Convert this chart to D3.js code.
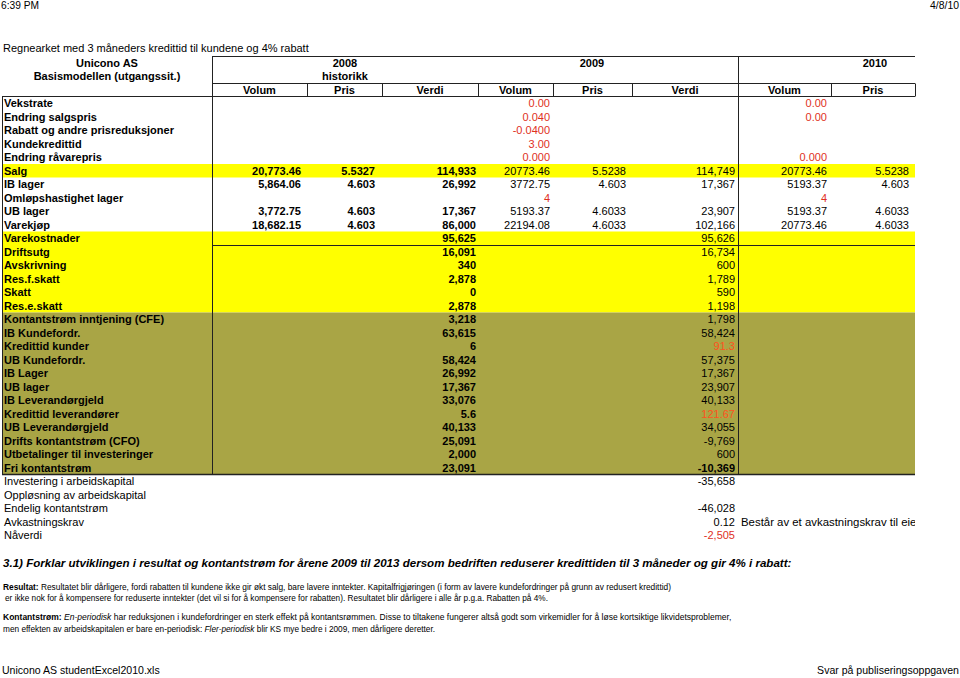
<!DOCTYPE html>
<html>
<head>
<meta charset="utf-8">
<script src="https://cdn.jsdelivr.net/npm/d3@7"></script>
<style>
  body { margin: 0; background: #fff; }
  svg { display: block; font-family: Arial, "Liberation Sans", sans-serif; }
</style>
</head>
<body>
<div id="chart"></div>
<script>
(function() {

  // row labels of the sheet
  var rowLabels = [
    'Vekstrate', 'Endring salgspris', 'Rabatt og andre prisreduksjoner', 'Kundekredittid',
    'Endring råvarepris', 'Salg', 'IB lager', 'Omløpshastighet lager', 'UB lager', 'Varekjøp',
    'Varekostnader', 'Driftsutg', 'Avskrivning', 'Res.f.skatt', 'Skatt', 'Res.e.skatt',
    'Kontantstrøm inntjening (CFE)', 'IB Kundefordr.', 'Kredittid kunder', 'UB Kundefordr.',
    'IB Lager', 'UB lager', 'IB Leverandørgjeld', 'Kredittid leverandører', 'UB Leverandørgjeld',
    'Drifts kontantstrøm (CFO)', 'Utbetalinger til investeringer', 'Fri kontantstrøm',
    'Investering i arbeidskapital', 'Oppløsning av arbeidskapital', 'Endelig kontantstrøm',
    'Avkastningskrav', 'Nåverdi'
  ];

  var years = ['2008', '2009', '2010'];
  var subHeads = ['Volum', 'Pris', 'Verdi', 'Volum', 'Pris', 'Verdi', 'Volum', 'Pris'];

  var vol2008 = ['', '', '', '', '', '20,773.46', '5,864.06', '', '3,772.75', '18,682.15'];
  var pris2008 = ['', '', '', '', '', '5.5327', '4.603', '', '4.603', '4.603'];
  var verdi2008 = ['', '', '', '', '', '114,933', '26,992', '', '17,367', '86,000',
    '95,625', '16,091', '340', '2,878', '0', '2,878', '3,218', '63,615', '6', '58,424',
    '26,992', '17,367', '33,076', '5.6', '40,133', '25,091', '2,000', '23,091'];
  var vol2009 = ['0.00', '0.040', '-0.0400', '3.00', '0.000', '20773.46', '3772.75', '4',
    '5193.37', '22194.08'];
  var pris2009 = ['', '', '', '', '', '5.5238', '4.603', '', '4.6033', '4.6033'];
  var verdi2009 = ['', '', '', '', '', '114,749', '17,367', '', '23,907', '102,166',
    '95,626', '16,734', '600', '1,789', '590', '1,198', '1,798', '58,424', '91.3', '57,375',
    '17,367', '23,907', '40,133', '121.67', '34,055', '-9,769', '600', '-10,369',
    '-35,658', '', '-46,028', '0.12', '-2,505'];
  var vol2010 = ['0.00', '0.00', '', '', '0.000', '20773.46', '5193.37', '4', '5193.37', '20773.46'];
  var pris2010 = ['', '', '', '', '', '5.5238', '4.603', '', '4.6033', '4.6033'];

  var noteText = 'Består av et avkastningskrav til eiere';

  var width = 960, height = 678;
  var svg = d3.select('#chart').append('svg')
    .attr('width', width)
    .attr('height', height);

  // layout
  var edges = [212, 307, 382, 478, 553, 632, 738, 831, 915];
  var tableLeft = 2, tableRight = 915;
  var y = d3.scaleLinear().domain([0, rowLabels.length]).range([96.5, 96.5 + rowLabels.length * 13.5]);
  var rowH = y(1) - y(0);
  var red = '#e0301e', orange = '#ff5220', yellow = '#ffff00', olive = '#a9a545';

  var columns = [
    {data: vol2008, pad: 6, bold: true},
    {data: pris2008, pad: 7, bold: true},
    {data: verdi2008, pad: 2, bold: true},
    {data: vol2009, pad: 3},
    {data: pris2009, pad: 6},
    {data: verdi2009, pad: 3},
    {data: vol2010, pad: 4},
    {data: pris2010, pad: 6}
  ];
  var redCells = {'3': [0, 1, 2, 3, 4, 7], '6': [0, 1, 4, 7], '5': [32]};
  var orangeCells = {'5': [18, 23]};
  var boldCells = {'5': [27]};

  // row backgrounds
  var bands = [
    {from: 5, to: 6, fill: yellow},
    {from: 10, to: 16, fill: yellow},
    {from: 16, to: 28, fill: olive}
  ];
  svg.append('g').selectAll('rect')
    .data(bands)
    .enter().append('rect')
    .attr('x', tableLeft)
    .attr('width', tableRight - tableLeft)
    .attr('y', function(d) { return y(d.from); })
    .attr('height', function(d) { return y(d.to) - y(d.from); })
    .attr('fill', function(d) { return d.fill; });

  // grid lines
  var lines = svg.append('g').attr('stroke', '#222').attr('stroke-width', 1);
  lines.append('line').attr('x1', edges[0]).attr('x2', tableRight).attr('y1', 56.5).attr('y2', 56.5);
  lines.append('line').attr('x1', edges[0]).attr('x2', tableRight).attr('y1', 83.5).attr('y2', 83.5);
  lines.append('line').attr('x1', tableLeft).attr('x2', tableRight).attr('y1', y(0)).attr('y2', y(0));
  lines.append('line').attr('x1', edges[0]).attr('x2', tableRight).attr('y1', y(11) + 0.5).attr('y2', y(11) + 0.5);
  lines.append('line').attr('x1', tableLeft).attr('x2', tableRight).attr('y1', y(28)).attr('y2', y(28))
    .attr('stroke-width', 1.6);
  lines.selectAll('line.sub')
    .data(edges)
    .enter().append('line')
    .attr('x1', function(d) { return d + 0.5; })
    .attr('x2', function(d) { return d + 0.5; })
    .attr('y1', 83.5)
    .attr('y2', y(0));
  lines.selectAll('line.full')
    .data([edges[0], edges[6]])
    .enter().append('line')
    .attr('x1', function(d) { return d + 0.5; })
    .attr('x2', function(d) { return d + 0.5; })
    .attr('y1', 56.5)
    .attr('y2', y(28));
  lines.append('line').attr('x1', tableLeft + 0.5).attr('x2', tableLeft + 0.5).attr('y1', y(0)).attr('y2', y(28));

  // headers
  var fs = 11;
  svg.append('text').attr('x', 3).attr('y', 52).attr('font-size', fs)
    .text('Regnearket med 3 måneders kredittid til kundene og 4% rabatt');
  var head = svg.append('g').attr('font-size', fs).attr('font-weight', 'bold').attr('text-anchor', 'middle');
  head.append('text').attr('x', 107).attr('y', 67).text('Unicono AS');
  head.append('text').attr('x', 107).attr('y', 80).text('Basismodellen (utgangssit.)');
  var yearX = [345, 592, 875];
  head.selectAll('text.year')
    .data(years)
    .enter().append('text')
    .attr('x', function(d, i) { return yearX[i]; })
    .attr('y', 67)
    .text(function(d) { return d; });
  head.append('text').attr('x', yearX[0]).attr('y', 80).text('historikk');
  head.selectAll('text.sub')
    .data(subHeads)
    .enter().append('text')
    .attr('x', function(d, i) { return (edges[i] + edges[i + 1]) / 2; })
    .attr('y', 94)
    .text(function(d) { return d; });

  // row labels
  svg.append('g').attr('font-size', fs).selectAll('text')
    .data(rowLabels)
    .enter().append('text')
    .attr('x', 4)
    .attr('y', function(d, i) { return y(i) + rowH / 2 + 4; })
    .attr('font-weight', function(d, i) { return i < 28 ? 'bold' : 'normal'; })
    .text(function(d) { return d; });

  // values
  columns.forEach(function(col, ci) {
    var reds = redCells[ci] || [], oranges = orangeCells[ci] || [], bolds = boldCells[ci] || [];
    svg.append('g').attr('font-size', fs).attr('text-anchor', 'end').selectAll('text')
      .data(col.data)
      .enter().append('text')
      .attr('x', edges[ci + 1] - col.pad)
      .attr('y', function(d, i) { return y(i) + rowH / 2 + 4; })
      .attr('font-weight', function(d, i) { return col.bold || bolds.indexOf(i) >= 0 ? 'bold' : 'normal'; })
      .attr('fill', function(d, i) {
        if (reds.indexOf(i) >= 0) return red;
        if (oranges.indexOf(i) >= 0) return orange;
        return '#000';
      })
      .text(function(d) { return d; });
  });

  // clipped note next to Avkastningskrav
  svg.append('clipPath').attr('id', 'noteclip')
    .append('rect').attr('x', edges[6]).attr('y', 0).attr('width', tableRight - edges[6]).attr('height', height);
  svg.append('text')
    .attr('clip-path', 'url(#noteclip)')
    .attr('x', edges[6] + 3)
    .attr('y', y(31) + rowH / 2 + 4)
    .attr('font-size', 11.4)
    .text(noteText);

  // fit a text element to a given width by scaling its font size
  function fitWidth(sel, w) {
    var len = sel.node().getComputedTextLength();
    var f = +sel.attr('font-size');
    sel.attr('font-size', f * w / len);
  }

  var q = svg.append('text').attr('x', 3).attr('y', 567).attr('font-size', 12)
    .attr('font-weight', 'bold').attr('font-style', 'italic')
    .text('3.1) Forklar utviklingen i resultat og kontantstrøm for årene 2009 til 2013 dersom bedriften reduserer kredittiden til 3 måneder og gir 4% i rabatt:');
  fitWidth(q, 789);

  var r1 = svg.append('text').attr('x', 3).attr('y', 590).attr('font-size', 8);
  r1.append('tspan').attr('font-weight', 'bold').text('Resultat:');
  r1.append('tspan').text(' Resultatet blir dårligere, fordi rabatten til kundene ikke gir økt salg, bare lavere inntekter. Kapitalfrigjøringen (i form av lavere kundefordringer på grunn av redusert kredittid)');
  fitWidth(r1, 669);
  var r2 = svg.append('text').attr('x', 5).attr('y', 601).attr('font-size', 8)
    .text('er ikke nok for å kompensere for reduserte inntekter (det vil si for å kompensere for rabatten). Resultatet blir dårligere i alle år p.g.a. Rabatten på 4%.');
  fitWidth(r2, 544);

  var k1 = svg.append('text').attr('x', 3).attr('y', 620).attr('font-size', 8);
  k1.append('tspan').attr('font-weight', 'bold').text('Kontantstrøm:');
  k1.append('tspan').attr('font-style', 'italic').text(' En-periodisk');
  k1.append('tspan').text(' har reduksjonen i kundefordringer en sterk effekt på kontantsrømmen. Disse to tiltakene fungerer altså godt som virkemidler for å løse kortsiktige likvidetsproblemer,');
  fitWidth(k1, 729);
  var k2 = svg.append('text').attr('x', 3).attr('y', 632).attr('font-size', 8);
  k2.append('tspan').text('men effekten av arbeidskapitalen er bare en-periodisk: ');
  k2.append('tspan').attr('font-style', 'italic').text('Fler-periodisk');
  k2.append('tspan').text(' blir KS mye bedre i 2009, men dårligere deretter.');
  fitWidth(k2, 433);

  // page header and footer
  var t1 = svg.append('text').attr('x', 1).attr('y', 9).attr('font-size', 9).text('6:39 PM');
  fitWidth(t1, 38);
  var t2 = svg.append('text').attr('x', 959).attr('y', 9).attr('font-size', 9).attr('text-anchor', 'end').text('4/8/10');
  fitWidth(t2, 29);
  var f1 = svg.append('text').attr('x', 2).attr('y', 674).attr('font-size', 11).text('Unicono AS studentExcel2010.xls');
  fitWidth(f1, 158);
  var f2 = svg.append('text').attr('x', 959).attr('y', 674).attr('font-size', 11).attr('text-anchor', 'end').text('Svar på publiseringsoppgaven');
  fitWidth(f2, 142);

})();
</script>
</body>
</html>
